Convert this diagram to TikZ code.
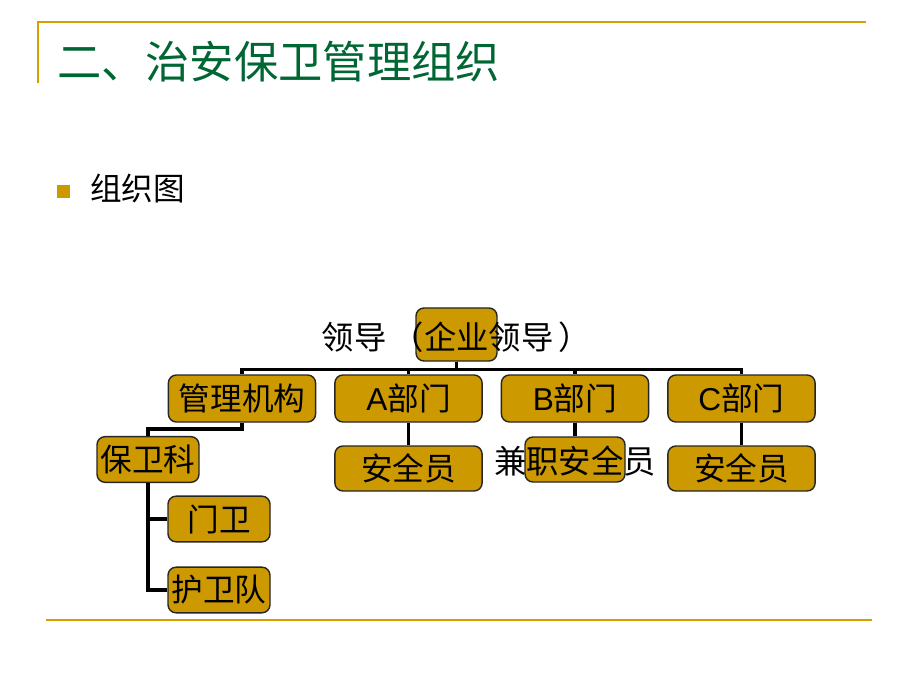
\documentclass[tikz,border=0pt]{standalone}
\usepackage{fontspec}
\setmainfont{Liberation Sans}
\newfontfamily\cjk{Noto Sans CJK SC}
\usetikzlibrary{positioning}
\definecolor{gold}{RGB}{204,153,0}
\definecolor{rulegold}{RGB}{214,160,0}
\definecolor{titlegreen}{RGB}{0,102,51}
\tikzset{
  title/.style={
      font=\cjk\fontsize{31.5}{34}\selectfont,
      text=titlegreen,
      anchor=west,
      inner sep=0pt
    },
  bullettext/.style={
      font=\cjk\fontsize{22.5}{26}\selectfont,
      anchor=west,
      inner sep=0pt
    },
  unit/.style={
      rectangle,
      rounded corners=0.2cm,
      draw=black!85,
      line width=1pt,
      fill=gold,
      minimum width=3.68cm,
      minimum height=1.175cm,
      inner sep=0pt,
      font=\cjk\fontsize{22.5}{26}\selectfont
    },
  small/.style={
      unit,
      minimum width=2.55cm,
      minimum height=1.14cm
    },
  word/.style={
      inner sep=0pt,
      font=\cjk\fontsize{23}{26}\selectfont
    },
  link/.style={
      line width=2.4pt,
      black
    },
  rule/.style={
      rulegold,
      line width=1.6pt
    }
}

\begin{document}
\begin{tikzpicture}
  \fill[white] (0,0) rectangle (23,17.25);
  \useasboundingbox (0,0) rectangle (23,17.25);
  % frame of the slide
  \draw[rule] (0.95,15.175) -- (0.95,16.7) -- (21.65,16.7);
  \draw[rule] (1.15,1.75) -- (21.8,1.75);
  \node[title] (head) at (1.42,15.7) {二、治安保卫管理组织};
  \node[fill=gold, minimum size=0.325cm, inner sep=0pt] (dot) at (1.5875,12.4625) {};
  \node[bullettext] (sub) at (2.25,12.55) {组织图};

  % chart
  \node[unit, minimum width=2.025cm, minimum height=1.325cm] (lead) at (11.4125,8.8875) {};
  \node[word] (leadtext) at ([yshift=-0.06cm]lead) {领导\,（企业领导\,）};
  \node[unit] (mgmt) at (6.05,7.2875) {管理机构};
  \node[unit] (depA) at (10.2125,7.2875) {{\fontspec{Liberation Sans}A}部门};
  \node[unit] (depB) at (14.375,7.2875) {{\fontspec{Liberation Sans}B}部门};
  \node[unit] (depC) at (18.5375,7.2875) {{\fontspec{Liberation Sans}C}部门};
  \node[unit, minimum height=1.125cm] (safeA) at (10.2125,5.5375) {安全员};
  \node[unit, minimum width=2.5cm, minimum height=1.125cm] (safeB) at (14.375,5.7625) {};
  \node[word] (safeBtext) at ([yshift=-0.05cm]safeB) {兼职安全员};
  \node[unit, minimum height=1.125cm] (safeC) at (18.5375,5.5375) {安全员};
  \node[small] (sec) at (3.7,5.7625) {保卫科};
  \node[small] (gate) at (5.475,4.275) {门卫};
  \node[small] (guard) at (5.475,2.5) {护卫队};

  \foreach \n in {mgmt,depA,depB,depC}
    \draw[link] (lead.south) -- ++(0,-0.2) -| (\n.north);
  \draw[link] (depA) -- (safeA);
  \draw[link] (depB) -- (safeB);
  \draw[link] (depC) -- (safeC);
  \draw[link] (mgmt.south) -- ++(0,-0.16) -| (sec.north);
  \draw[link] (sec.south) |- (gate.west);
  \draw[link] (sec.south) |- (guard.west);
\end{tikzpicture}
\end{document}
